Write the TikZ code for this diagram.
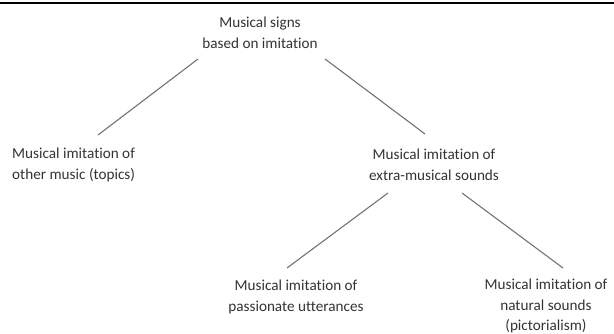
\documentclass[tikz,border=0pt]{standalone}
\usepackage{fontspec}
\setmainfont{Carlito}[Ligatures=NoCommon]
\usepackage{xcolor}
\usepackage{tikz}
\usetikzlibrary{positioning}

\begin{document}
\begin{tikzpicture}[
  x=1pt, y=-1pt,
  every node/.style={font=\fontsize{15.2}{20.5}\selectfont, text=black!80, inner sep=2pt},
  leaf/.style={align=center},
  link/.style={draw=black!55, line width=1.1pt},
]
\useasboundingbox (0,0) rectangle (614,334);
% top rule
\draw[line width=2pt] (0,2.7) -- (614,2.7);

\node[leaf] (root) at (260,33) {Musical signs\\based on imitation};
\node[leaf, align=left, anchor=west] (other) at (10,165) {Musical imitation of\\other music (topics)};
\node[leaf] (extra) at (434,165) {Musical imitation of\\extra-musical sounds};
\node[leaf] (pass) at (296,297) {Musical imitation of\\passionate utterances};
\node[leaf] (nat) at (546,306) {Musical imitation of\\natural sounds\\(pictorialism)};

\draw[link] ([shift={(-62,26)}]root.center) -- ([shift={(88,-30)}]other.west);
\draw[link] ([shift={(65,26)}]root.center) -- ([shift={(-9,-31)}]extra.center);
\draw[link] ([shift={(-46,28)}]extra.center) -- ([shift={(-9,-29)}]pass.center);
\draw[link] ([shift={(28,28)}]extra.center) -- ([shift={(17,-38)}]nat.center);
\end{tikzpicture}
\end{document}
